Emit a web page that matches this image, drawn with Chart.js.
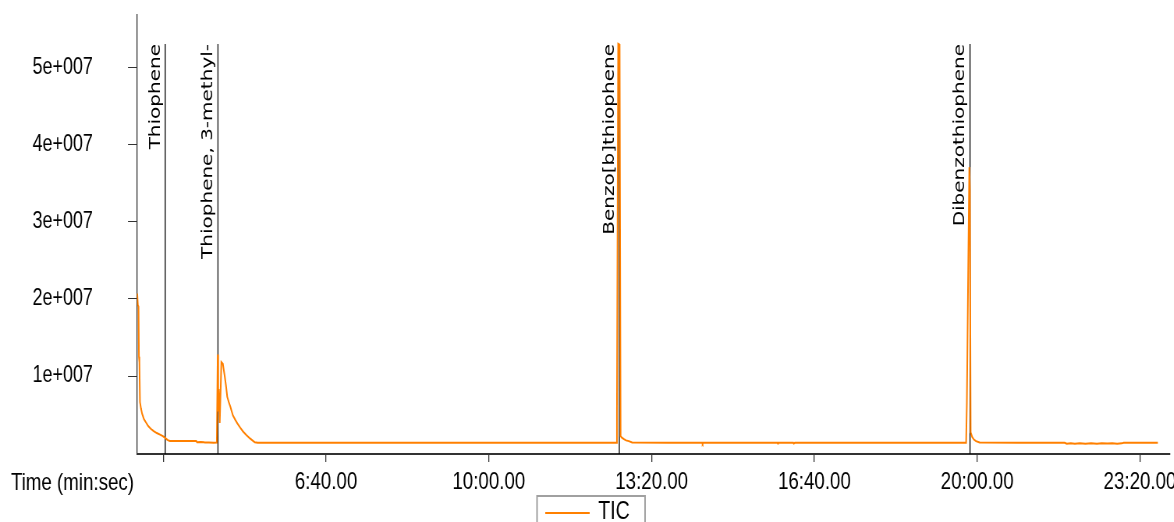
<!DOCTYPE html>
<html>
<head>
<meta charset="utf-8">
<script src="https://cdn.jsdelivr.net/npm/chart.js@4.4.1/dist/chart.umd.min.js"></script>
<style>
  html, body { margin: 0; padding: 0; background: #fff; overflow: hidden; }
  /* the plot is laid out on a wider canvas and narrowed horizontally */
  #wrap { width: 1505px; height: 522px; transform: scaleX(0.78); transform-origin: 0 0; }
  canvas { display: block; }
</style>
</head>
<body>
<div id="wrap"><canvas id="tic" width="1505" height="522"></canvas></div>
<script>
// Total ion chromatogram: retention time (s) and abundance
const ticTimes = [
  168.0, 168.8, 169.6, 170.1, 170.7, 171.4, 172.6, 174.0, 176.3, 178.6,
  181.5, 184.6, 188.2, 192.0, 196.0, 199.5, 202.5, 205.5, 208.0, 215.0,
  224.0, 233.0, 240.5, 241.5, 246.0, 250.0, 251.0, 256.0, 262.0, 265.8,
  266.9, 267.5, 268.3, 269.4, 271.4, 273.2, 275.6, 277.0, 278.6, 280.5,
  282.5, 285.5, 288.5, 291.0, 294.5, 298.0, 302.0, 306.5, 309.5, 312.5,
  316.0, 350.0, 400.0, 450.0, 500.0, 550.0, 600.0, 650.0, 700.0, 740.0,
  756.6, 757.4, 758.9, 760.7, 761.9, 763.4, 766.0, 768.5, 772.0, 776.0,
  820.0, 862.0, 862.6, 863.2, 900.0, 954.5, 955.0, 955.5, 974.0, 974.6,
  975.5, 976.0, 1020.0, 1080.0, 1140.0, 1186.4, 1187.3, 1188.7, 1190.3, 1191.0,
  1192.0, 1193.8, 1196.0, 1198.5, 1203.0, 1250.0, 1300.0, 1307.5, 1310.0, 1315.0,
  1320.0, 1326.0, 1333.0, 1340.0, 1347.0, 1353.0, 1360.0, 1366.0, 1372.0, 1377.5,
  1380.0, 1400.0, 1422.0
];
const ticValues = [
  2.07e7, 1.92e7, 1.90e7, 1.25e7, 1.18e7, 0.66e7, 0.58e7, 0.51e7, 0.44e7, 0.40e7,
  0.35e7, 0.315e7, 0.285e7, 0.26e7, 0.24e7, 0.22e7, 0.195e7, 0.168e7, 0.158e7, 0.158e7,
  0.157e7, 0.158e7, 0.157e7, 0.142e7, 0.145e7, 0.140e7, 0.136e7, 0.138e7, 0.135e7, 0.136e7,
  1.28e7, 0.54e7, 0.83e7, 0.39e7, 1.18e7, 1.16e7, 0.99e7, 0.88e7, 0.73e7, 0.66e7,
  0.60e7, 0.49e7, 0.43e7, 0.385e7, 0.33e7, 0.28e7, 0.235e7, 0.19e7, 0.165e7, 0.140e7,
  0.135e7, 0.135e7, 0.135e7, 0.135e7, 0.135e7, 0.135e7, 0.135e7, 0.135e7, 0.135e7, 0.135e7,
  0.135e7, 0.51e7, 5.31e7, 5.30e7, 0.22e7, 0.20e7, 0.18e7, 0.165e7, 0.155e7, 0.137e7,
  0.135e7, 0.135e7, 0.122e7, 0.135e7, 0.135e7, 0.135e7, 0.124e7, 0.135e7, 0.135e7, 0.124e7,
  0.130e7, 0.135e7, 0.135e7, 0.135e7, 0.135e7, 0.135e7, 0.65e7, 2.11e7, 3.71e7, 3.43e7,
  0.27e7, 0.21e7, 0.175e7, 0.155e7, 0.137e7, 0.135e7, 0.135e7, 0.134e7, 0.122e7, 0.128e7,
  0.121e7, 0.127e7, 0.122e7, 0.128e7, 0.121e7, 0.127e7, 0.124e7, 0.128e7, 0.122e7, 0.126e7,
  0.135e7, 0.135e7, 0.135e7
];

// Identified compounds and their retention times (s)
const compoundNames = ['Thiophene', 'Thiophene, 3-methyl-', 'Benzo[b]thiophene', 'Dibenzothiophene'];
const compoundTimes = [202.4, 267.2, 760.3, 1191.2];

// Axis ticks
const xTickTimes  = [200, 400, 600, 800, 1000, 1200, 1400];
const xTickLabels = ['', '6:40.00', '10:00.00', '13:20.00', '16:40.00', '20:00.00', '23:20.00'];
const yTickValues = [1e7, 2e7, 3e7, 4e7, 5e7];
const yTickLabels = ['1e+007', '2e+007', '3e+007', '4e+007', '5e+007'];

const seriesName = 'TIC';
const lineColor = '#ff8000';
const textFont = '"Liberation Sans", Arial, sans-serif';

// vertical compound markers with rotated names
const compoundMarkers = {
  id: 'compoundMarkers',
  beforeDatasetsDraw(chart) {
    const { ctx, chartArea, scales: { x } } = chart;
    const lineTop = 44;
    ctx.save();
    ctx.strokeStyle = '#000';
    ctx.lineWidth = 1.3;
    ctx.fillStyle = '#000';
    ctx.font = '20px "DejaVu Sans", Verdana, sans-serif';
    compoundTimes.forEach((t, i) => {
      const px = x.getPixelForValue(t);
      ctx.beginPath();
      ctx.moveTo(px, lineTop);
      ctx.lineTo(px, chartArea.bottom);
      ctx.stroke();
      ctx.save();
      ctx.translate(px - 2.4, lineTop);
      ctx.rotate(-Math.PI / 2);
      ctx.textAlign = 'right';
      ctx.textBaseline = 'bottom';
      ctx.fillText(compoundNames[i], 0, 0);
      ctx.restore();
    });
    ctx.restore();
  }
};

// axis caption on the tick-label row and the boxed legend below
const captionAndLegend = {
  id: 'captionAndLegend',
  afterDraw(chart) {
    const { ctx } = chart;
    ctx.save();
    ctx.fillStyle = '#000';
    ctx.font = '24px ' + textFont;
    ctx.textAlign = 'left';
    ctx.textBaseline = 'middle';
    ctx.fillText('Time (min:sec)', 14, 483);

    // legend
    ctx.strokeStyle = '#a0a0a0';
    ctx.lineWidth = 2;
    ctx.strokeRect(688.5, 496, 138.5, 40);
    ctx.strokeStyle = lineColor;
    ctx.lineWidth = 2;
    ctx.beginPath();
    ctx.moveTo(699, 513);
    ctx.lineTo(756, 513);
    ctx.stroke();
    ctx.fillStyle = '#000';
    ctx.font = '25px ' + textFont;
    ctx.fillText(seriesName, 767, 512);
    ctx.restore();
  }
};

new Chart(document.getElementById('tic'), {
  type: 'line',
  data: {
    datasets: [{
      label: seriesName,
      data: ticTimes.map((t, i) => ({ x: t, y: ticValues[i] })),
      borderColor: lineColor,
      backgroundColor: lineColor,
      borderWidth: 2,
      pointRadius: 0,
      tension: 0,
      fill: false
    }]
  },
  options: {
    responsive: false,
    animation: false,
    devicePixelRatio: 1,
    layout: { padding: { top: 15, right: 5, left: 0, bottom: 0 } },
    plugins: {
      legend: { display: false },
      tooltip: { enabled: false }
    },
    scales: {
      x: {
        type: 'linear',
        min: 167.7,
        max: 1436.9,
        afterBuildTicks: s => { s.ticks = xTickTimes.map(v => ({ value: v })); },
        afterFit: s => { s.height = 68; s.paddingLeft = 0; s.paddingRight = 0; },
        ticks: {
          autoSkip: false,
          maxRotation: 0,
          padding: 6,
          color: '#000',
          font: { family: textFont, size: 24 },
          callback: (v, i) => xTickLabels[i]
        },
        grid: { drawOnChartArea: false, drawTicks: true, tickLength: 8, color: '#333', lineWidth: 1.3 },
        border: { color: '#333', width: 2 }
      },
      y: {
        type: 'linear',
        min: -1.2e5,
        max: 5.684e7,
        afterBuildTicks: s => { s.ticks = yTickValues.map(v => ({ value: v })); },
        afterFit: s => { s.width = 175.6; s.paddingTop = 0; s.paddingBottom = 0; },
        ticks: {
          padding: 45,
          color: '#000',
          font: { family: textFont, size: 23 },
          callback: (v, i) => yTickLabels[i]
        },
        grid: { drawOnChartArea: false, drawTicks: true, tickLength: 11.5, color: '#333', lineWidth: 1 },
        border: { color: '#333', width: 1.3 }
      }
    }
  },
  plugins: [compoundMarkers, captionAndLegend]
});
</script>
</body>
</html>
